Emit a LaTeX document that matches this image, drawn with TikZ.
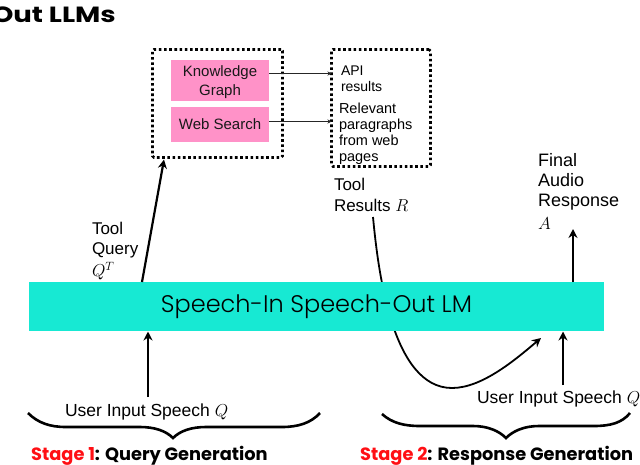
\documentclass[tikz,border=0pt]{standalone}
\usepackage{fontspec}
\setmainfont{Liberation Sans}
\newfontfamily\headfont{Poppins}
\newfontfamily\barfont[UprightFont=* Light]{Poppins}
\usetikzlibrary{arrows.meta}
\definecolor{teal1}{HTML}{17E9D3}
\definecolor{pink1}{HTML}{FF92C8}
\definecolor{red1}{HTML}{FF0F14}
\tikzset{
  x=1pt,y=-1pt,
  lbl/.style n args={2}{inner sep=0pt,outer sep=0pt,align=left,anchor=north west,font=\fontsize{#1}{#2}\selectfont},
  pinkbox/.style={fill=pink1,inner sep=0pt,outer sep=0pt,font=\fontsize{15}{19}\selectfont,align=center,text=black!90},
  dotbox/.style={draw=black,line width=2.6pt,dash pattern=on 2.6pt off 2.6pt,rounded corners=1.5pt,outer sep=0pt},
  thick arrow/.style={draw=black,line width=2.2pt,-{Stealth[length=9pt,width=9pt]}},
  thin arrow/.style={draw=black!85,line width=1.1pt,-{Stealth[length=4pt,width=4pt]}},
  bracepath/.style={draw=black,line width=2.6pt},
  stage/.style={inner sep=0pt,anchor=base west,font=\headfont\bfseries\fontsize{17.8}{18}\selectfont},
}
\begin{document}
\begin{tikzpicture}
\useasboundingbox (0,0) rectangle (640,464);
\fill[white] (0,0) rectangle (640,464);
% title
\node[inner sep=0pt,anchor=base east,font=\headfont\bfseries\fontsize{22}{24}\selectfont] (title) at (116,22) {\scalebox{1.25}[1]{Out LLMs}};
% curved connector passes behind the LM bar
\coordinate (rtail) at (373,217);
\coordinate (rbottom) at (452,388);
\coordinate (rhead) at (541,338);
\draw[line width=1.8pt,-{Stealth[length=9pt,width=9pt]}] (rtail) .. controls (378,270) and (392,388) .. (rbottom) .. controls (482,388) and (515,360) .. (rhead);
% LM bar
\node[fill=teal1,minimum width=575pt,minimum height=49pt,inner sep=0pt,outer sep=0pt,anchor=north west,font=\barfont\fontsize{24}{24}\selectfont] (llm) at (29,282) {\raisebox{-3pt}{Speech-In Speech-Out LM}};
% tools
\node[dotbox,minimum width=130pt,minimum height=108pt,inner sep=0pt,anchor=north west] (tools) at (152.5,49.5) {};
\node[pinkbox,minimum width=98pt,minimum height=41pt,anchor=north west] (kg) at (171,60) {\rule{0pt}{15pt}Knowledge\\Graph};
\node[pinkbox,minimum width=98pt,minimum height=35pt,anchor=north west] (ws) at (171,107) {Web Search};
% results
\node[dotbox,minimum width=99pt,minimum height=117pt,inner sep=0pt,anchor=north west] (results) at (331.5,49.5) {};
\node[lbl={14}{16}] (api) at (341,65.5) {API\\results};
\node[lbl={14.5}{16}] (rel) at (339,103) {Relevant\\paragraphs\\from web\\pages};
\draw[thin arrow] (kg.east |- 0,73.5) -- (results.west |- 0,73.5);
\draw[thin arrow] (ws.east |- 0,121.5) -- (results.west |- 0,121.5);
% labels
\node[lbl={17}{20}] (tq) at (92,222.5) {Tool\\Query\\[2pt]$Q^T$};
\node[lbl={17}{21}] (tr) at (334,178) {Tool\\Results $R$};
\node[lbl={18}{20}] (far) at (538,153.5) {Final\\Audio\\Response\\[3pt]$A$};
\node[lbl={17.5}{20},anchor=base west] (uq1) at (65,416) {User Input Speech $Q$};
\node[lbl={17.5}{20},anchor=base west] (uq2) at (477,403) {User Input Speech $Q$};
% arrows
\coordinate (qtail) at (142,282);
\coordinate (qhead) at (164,159.5);
\draw[thick arrow] (qtail) -- (qhead);
\coordinate (ahead) at (573,229);
\coordinate (atail) at (573,282);
\draw[thick arrow] (atail) -- (ahead);
\coordinate (u1tail) at (148,397);
\coordinate (u1head) at (148,331.5);
\draw[thick arrow] (u1tail) -- (u1head);
\coordinate (u2tail) at (563,385);
\coordinate (u2head) at (563,331.5);
\draw[thick arrow] (u2tail) -- (u2head);
% braces
\draw[bracepath] (28,413) .. controls (38,423) and (50,427) .. (66,427) -- (140,427) .. controls (155,427) and (166,431) .. (173,438) .. controls (180,431) and (191,427) .. (206,427) -- (282,427) .. controls (298,427) and (311,423) .. (320,413);
\draw[bracepath] (382,414) .. controls (392,423) and (404,426) .. (420,426) -- (473,426) .. controls (488,426) and (499,431) .. (506,438) .. controls (513,431) and (524,426) .. (539,426) -- (594,426) .. controls (610,426) and (622,423) .. (630,413);
% stages
\node[stage] (s1) at (31,460) {\textcolor{red1}{Stage 1}: Query Generation};
\node[stage] (s2) at (360,460) {\textcolor{red1}{Stage 2}: Response Generation};
\end{tikzpicture}
\end{document}
